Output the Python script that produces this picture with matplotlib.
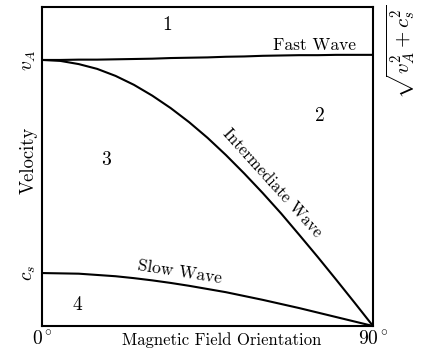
import numpy as np
import matplotlib.pyplot as plt

plt.rcParams['font.family'] = 'serif'
plt.rcParams['font.serif'] = ['cmr10']
plt.rcParams['mathtext.fontset'] = 'cm'
plt.rcParams['axes.formatter.use_mathtext'] = True

# angle in degrees, velocities normalised to the top of the plot
theta = [0, 5, 10, 15, 20, 25, 30, 35, 40, 45, 50, 55, 60, 65, 70, 75, 80, 85, 90]
fast = [0.834, 0.834, 0.835, 0.835, 0.836, 0.837, 0.838, 0.840, 0.841, 0.842,
        0.844, 0.845, 0.847, 0.848, 0.849, 0.849, 0.850, 0.850, 0.850]
inter = [0.834, 0.831, 0.821, 0.806, 0.784, 0.756, 0.722, 0.683, 0.639, 0.590,
         0.536, 0.478, 0.417, 0.353, 0.285, 0.216, 0.145, 0.073, 0.0]
slow = [0.166, 0.165, 0.164, 0.160, 0.156, 0.150, 0.143, 0.135, 0.126, 0.116,
        0.106, 0.094, 0.082, 0.069, 0.056, 0.042, 0.028, 0.014, 0.0]
v_A = 0.834
c_s = 0.166

fig = plt.figure(figsize=(4.24, 3.63), dpi=100)
ax = fig.add_axes([42/424, 1-326/363, 331/424, 319/363])

ax.plot(theta, fast, color='k', lw=1.5)
ax.plot(theta, inter, color='k', lw=1.5)
ax.plot(theta, slow, color='k', lw=1.5)
ax.set_xlim(0, 90)
ax.set_ylim(0, 1)
for s in ax.spines.values():
    s.set_linewidth(1.5)

ax.set_xticks([0, 90])
ax.set_xticklabels([r'$0^\circ$', r'$90^\circ$'], fontsize=14)
ax.set_yticks([c_s, v_A])
ax.set_yticklabels([r'$c_s$', r'$v_A$'], fontsize=14, rotation=90, va='center')
ax.tick_params(length=0, pad=3)

ax.text(0.544, -0.045, 'Magnetic Field Orientation', transform=ax.transAxes,
        ha='center', va='center', fontsize=12)
ax.text(-0.04, 0.52, 'Velocity', transform=ax.transAxes, rotation=90,
        ha='center', va='center', fontsize=13.5)
ax.text(1.085, fast[-1] + 0.01, r'$\sqrt{v_A^2+c_s^2}$', transform=ax.get_yaxis_transform(),
        rotation=90, ha='center', va='center', fontsize=15)

ax.text(34, 0.944, '1', ha='center', va='center', fontsize=14)
ax.text(75.6, 0.658, '2', ha='center', va='center', fontsize=14)
ax.text(17.4, 0.52, '3', ha='center', va='center', fontsize=14)
ax.text(9.5, 0.066, '4', ha='center', va='center', fontsize=14)

ax.text(74, 0.88, 'Fast Wave', ha='center', va='center', fontsize=12.5)
ax.text(62.5, 0.448, 'Intermediate Wave', ha='center', va='center', fontsize=12,
        rotation=-48)
ax.text(37.5, 0.17, 'Slow Wave', ha='center', va='center', fontsize=12.5,
        rotation=-9)

fig.savefig('out.png', dpi=100)
